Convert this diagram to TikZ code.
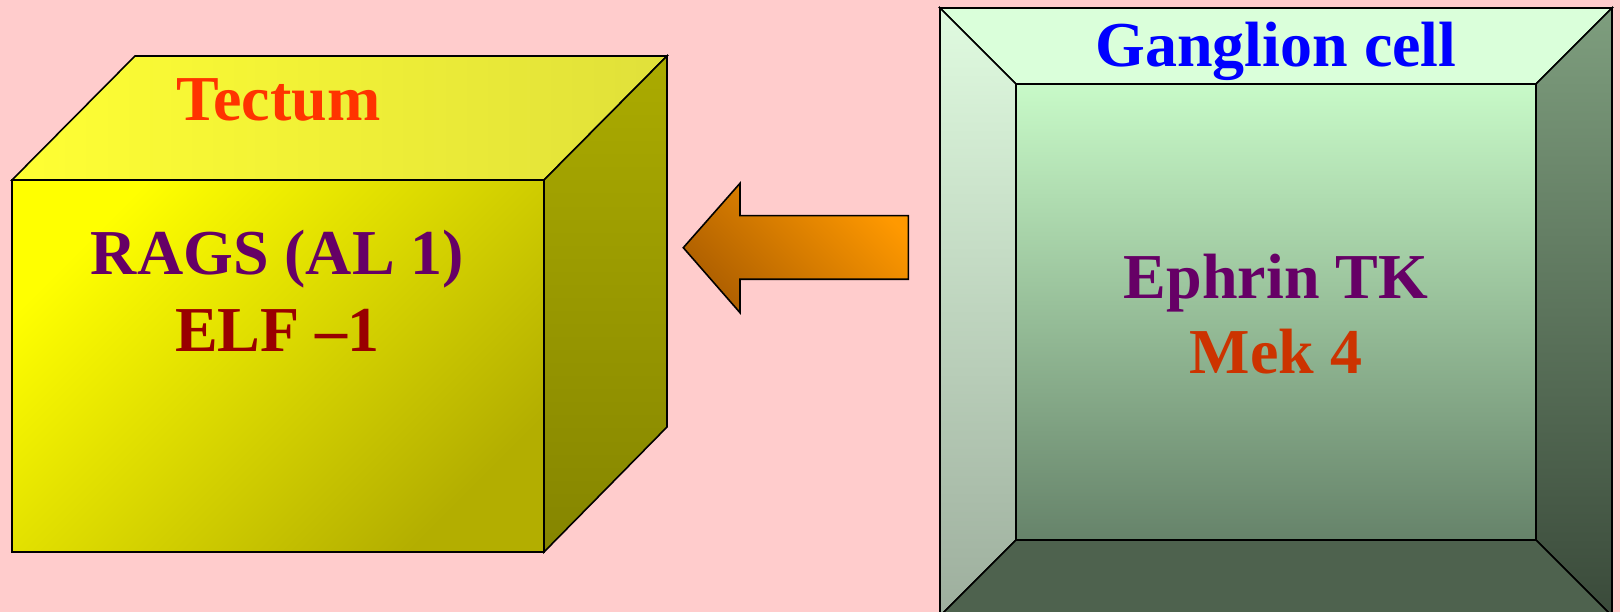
\documentclass[tikz,border=0pt]{standalone}
\usepackage{fontspec}
\setmainfont{Liberation Serif}
\usepackage{tikz}
\usetikzlibrary{positioning}

\definecolor{bgpink}{HTML}{FFCCCC}
\definecolor{cubefrontA}{HTML}{FFFF00}
\definecolor{cubefrontB}{HTML}{B3AE00}
\definecolor{cubetopA}{HTML}{FFFF33}
\definecolor{cubetopB}{HTML}{E0E03A}
\definecolor{cubesideA}{HTML}{ABAB00}
\definecolor{cubesideB}{HTML}{858500}
\definecolor{arrowlight}{HTML}{FF9900}
\definecolor{arrowdark}{HTML}{AE5F00}
\definecolor{bevtop}{HTML}{DAFFDA}
\definecolor{bevleftA}{HTML}{E0FBE0}
\definecolor{bevleftB}{HTML}{9DAE9D}
\definecolor{bevrightA}{HTML}{7E9E7E}
\definecolor{bevrightB}{HTML}{3A4A3A}
\definecolor{bevbottom}{HTML}{4E624E}
\definecolor{innerA}{HTML}{C8FAC8}
\definecolor{innerB}{HTML}{66836A}
\definecolor{tectumred}{HTML}{FF3300}
\definecolor{ragspurple}{HTML}{660066}
\definecolor{elfred}{HTML}{990000}
\definecolor{mekred}{HTML}{CC3300}

\begin{document}
\begin{tikzpicture}[x=1pt, y=1pt, line width=1.6pt, line join=miter,
  lbl/.style={font=\bfseries\fontsize{64}{70}\selectfont, anchor=base, inner sep=0pt}]
  \useasboundingbox (0,0) rectangle (1620,612);
  \fill[bgpink] (0,0) rectangle (1620,612);

  % tectum cube
  \coordinate (ftl) at (12,432);
  \coordinate (ftr) at (544,432);
  \coordinate (fbl) at (12,60);
  \coordinate (fbr) at (544,60);
  \coordinate (btl) at (135,556);
  \coordinate (btr) at (667,556);
  \coordinate (bbr) at (667,185);
  \draw[left color=cubetopA, right color=cubetopB] (ftl) -- (btl) -- (btr) -- (ftr) -- cycle;
  \draw[top color=cubesideA, bottom color=cubesideB] (ftr) -- (btr) -- (bbr) -- (fbr) -- cycle;
  \draw[top color=cubefrontA, bottom color=cubefrontB, shading angle=45] (ftl) rectangle (fbr);

  % block arrow
  \draw[top color=arrowlight, bottom color=arrowdark, shading angle=-45]
    (908.3,396.3) -- (740,396.3) -- (740,428.7) -- (683.3,364.3)
    -- (740,299.3) -- (740,332.7) -- (908.3,332.7) -- cycle;

  % ganglion cell frame
  \coordinate (otl) at (940,604);
  \coordinate (otr) at (1612,604);
  \coordinate (obl) at (940,-4);
  \coordinate (obr) at (1612,-4);
  \coordinate (itl) at (1016,528);
  \coordinate (itr) at (1536,528);
  \coordinate (ibl) at (1016,72);
  \coordinate (ibr) at (1536,72);
  \draw[fill=bevtop] (otl) -- (otr) -- (itr) -- (itl) -- cycle;
  \draw[top color=bevleftA, bottom color=bevleftB] (otl) -- (itl) -- (ibl) -- (obl) -- cycle;
  \draw[top color=bevrightA, bottom color=bevrightB] (otr) -- (itr) -- (ibr) -- (obr) -- cycle;
  \draw[fill=bevbottom] (obl) -- (ibl) -- (ibr) -- (obr) -- cycle;
  \draw[top color=innerA, bottom color=innerB] (ibl) rectangle (itr);

  % labels
  \node[lbl, text=tectumred] (tectum) at (278.6,491) {Tectum};
  \node[lbl, text=ragspurple] (rags) at (277.5,337.7) {RAGS (AL 1)};
  \node (elf) [lbl, text=elfred, below=77pt of rags.base, anchor=base] {ELF –1};
  \node[lbl, text=blue] (ganglion) at (1276,545) {Ganglion cell};
  \node[lbl, text=ragspurple] (ephrin) at (1276,313) {Ephrin TK};
  \node (mek) [lbl, text=mekred, below=75pt of ephrin.base, anchor=base] {Mek 4};
\end{tikzpicture}
\end{document}
